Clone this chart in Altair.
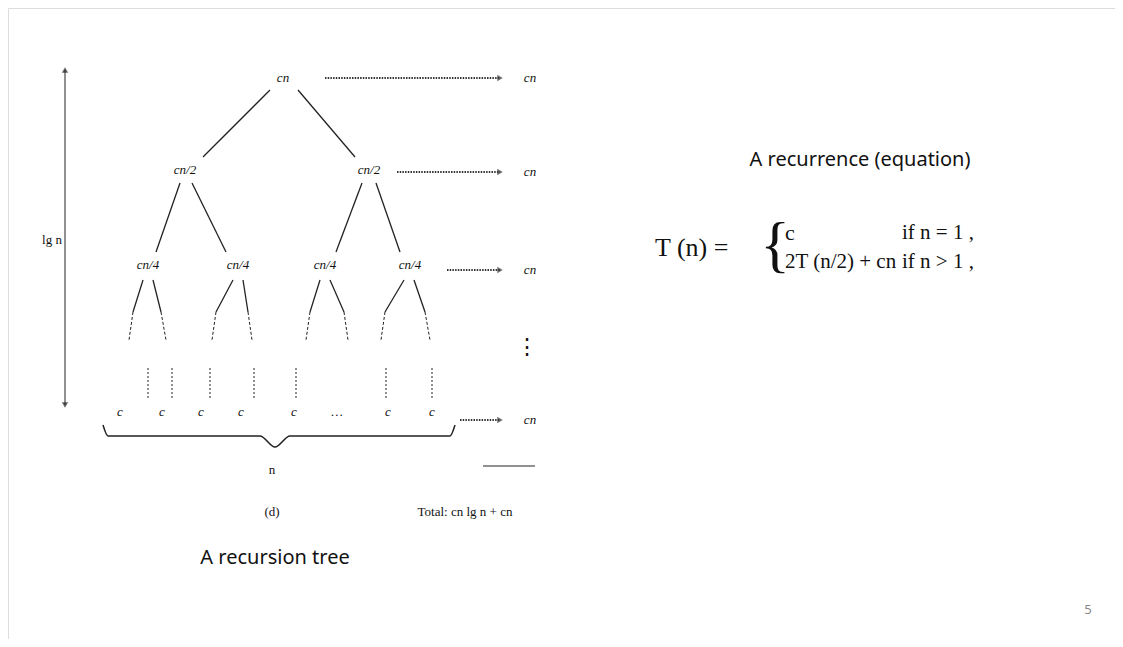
import altair as alt
import pandas as pd

# tree node labels (image pixel positions)
node_label = ["cn", "cn/2", "cn/2", "cn/4", "cn/4", "cn/4", "cn/4",
              "c", "c", "c", "c", "c", "\u2026", "c", "c"]
node_x = [283, 185, 369, 148, 238, 325, 410, 120, 162, 201, 241, 294, 337, 388, 432]
node_y = [78, 170, 170, 265, 265, 265, 265, 412, 412, 412, 412, 412, 412, 412, 412]

# solid tree edges: x1, y1, x2, y2
edge_x1 = [270, 298, 180, 192, 362, 376, 143, 153, 233, 243, 320, 330, 404, 414]
edge_y1 = [90, 90, 183, 183, 183, 183, 280, 280, 280, 280, 280, 280, 280, 280]
edge_x2 = [203, 355, 156, 226, 336, 400, 133, 161, 216, 248, 310, 344, 385, 425]
edge_y2 = [157, 157, 252, 252, 252, 252, 312, 312, 312, 312, 312, 312, 312, 312]

# dashed continuation of level-3 edges
dash_x1 = [133, 161, 216, 248, 310, 344, 385, 425]
dash_x2 = [129, 166, 212, 252, 306, 348, 381, 430]
dash_y1 = 312
dash_y2 = 340

# dotted leaf stems
stem_x = [148, 172, 210, 254, 296, 386, 432]

# dotted arrows to the right-hand "cn" column
arrow_x1 = [325, 397, 447, 460]
arrow_y = [78, 172, 270, 420]
arrow_x2 = 500
row_label_x = 530

# brace under leaves
brace_x = [103, 108, 260, 275, 290, 450, 455]
brace_y = [425, 436, 436, 447, 436, 436, 425]

W, H = 1123, 647
X = alt.X("x:Q", scale=alt.Scale(domain=[8, W - 8]), axis=None)
Y = alt.Y("y:Q", scale=alt.Scale(domain=[H - 8, 8]), axis=None)
X2 = alt.X2("x2:Q")
Y2 = alt.Y2("y2:Q")
SERIF = "Liberation Serif"
SANS = "Noto Sans"
INK = "#111"

nodes = pd.DataFrame({"x": node_x, "y": node_y, "t": node_label})
node_layer = alt.Chart(nodes).mark_text(font=SERIF, fontStyle="italic", fontSize=13, color=INK).encode(X, Y, text="t:N")

edges = pd.DataFrame({"x": edge_x1, "y": edge_y1, "x2": edge_x2, "y2": edge_y2})
edge_layer = alt.Chart(edges).mark_rule(color="#222", strokeWidth=1.3).encode(X, Y, X2, Y2)

dashes = pd.DataFrame({"x": dash_x1, "y": dash_y1, "x2": dash_x2, "y2": dash_y2})
dash_layer = alt.Chart(dashes).mark_rule(color="#222", strokeDash=[3, 2]).encode(X, Y, X2, Y2)

stems = pd.DataFrame({"x": stem_x, "y": 368, "x2": stem_x, "y2": 400})
stem_layer = alt.Chart(stems).mark_rule(color="#222", strokeDash=[2, 2]).encode(X, Y, X2, Y2)

arrows = pd.DataFrame({"x": arrow_x1, "y": arrow_y, "x2": arrow_x2, "y2": arrow_y})
arrow_layer = alt.Chart(arrows).mark_rule(color="#333", strokeDash=[1.5, 1.2], strokeWidth=2).encode(X, Y, X2, Y2)
heads = pd.DataFrame({"x": [arrow_x2] * 4, "y": arrow_y})
head_layer = alt.Chart(heads).mark_point(shape="triangle-right", filled=True, color="#333", size=40).encode(X, Y)
rowlab = pd.DataFrame({"x": [row_label_x] * 4, "y": arrow_y, "t": ["cn"] * 4})
rowlab_layer = alt.Chart(rowlab).mark_text(font=SERIF, fontStyle="italic", fontSize=13, color=INK).encode(X, Y, text="t:N")

brace = pd.DataFrame({"x": brace_x, "y": brace_y, "o": range(len(brace_x))})
brace_layer = alt.Chart(brace).mark_line(color="#222", strokeWidth=1.5, interpolate="monotone").encode(X, Y, order="o:Q")

# lg n double arrow
vline = alt.Chart(pd.DataFrame({"x": [65], "y": [70], "x2": [65], "y2": [405]})).mark_rule(color="#222").encode(X, Y, X2, Y2)
vheads = alt.Chart(pd.DataFrame({"x": [65, 65], "y": [70, 405], "s": ["triangle-up", "triangle-down"]})).mark_point(
    filled=True, color="#222", size=40).encode(X, Y, shape=alt.Shape("s:N", scale=None))

# total underline
uline = alt.Chart(pd.DataFrame({"x": [483], "y": [466], "x2": [535], "y2": [466]})).mark_rule(color="#222").encode(X, Y, X2, Y2)

serif_txt = pd.DataFrame({
    "x": [52, 272, 272, 465, 527],
    "y": [240, 470, 512, 512, 347],
    "t": ["lg n", "n", "(d)", "Total: cn lg n + cn", "\u22ee"],
    "s": [13, 13, 13, 13, 22],
})
serif_layer = alt.Chart(serif_txt).mark_text(font=SERIF, color=INK).encode(X, Y, text="t:N", size=alt.Size("s:Q", scale=None))

sans_txt = pd.DataFrame({
    "x": [275, 860, 1088],
    "y": [558, 160, 610],
    "t": ["A recursion tree", "A recurrence (equation)", "5"],
    "s": [20, 20, 13],
    "c": [INK, INK, "#888"],
})
sans_layer = alt.Chart(sans_txt).mark_text(font=SANS).encode(
    X, Y, text="t:N", size=alt.Size("s:Q", scale=None), color=alt.Color("c:N", scale=None))

eq = pd.DataFrame({
    "x": [655, 785, 785, 902, 902],
    "y": [248, 233, 262, 233, 262],
    "t": ["T (n) =", "c", "2T (n/2) + cn", "if n = 1 ,", "if n > 1 ,"],
    "st": ["italic", "italic", "normal", "normal", "normal"],
    "s": [26, 22, 21, 21, 21],
})
eq_layer = alt.Chart(eq).mark_text(font=SERIF, align="left", color=INK).encode(
    X, Y, text="t:N", size=alt.Size("s:Q", scale=None))
curly = alt.Chart(pd.DataFrame({"x": [775], "y": [246], "t": ["{"]})).mark_text(
    font=SERIF, fontSize=62, fontWeight=100, color=INK).encode(X, Y, text="t:N")

chart = alt.layer(
    edge_layer, dash_layer, stem_layer, arrow_layer, head_layer, node_layer, rowlab_layer,
    brace_layer, vline, vheads, uline, serif_layer, sans_layer, eq_layer, curly,
).properties(
    width=W - 16, height=H - 16, padding=0,
    autosize=alt.AutoSizeParams(type="fit", contains="padding"),
).configure_view(strokeWidth=0).configure(background="white")

chart.save("out.html", embed_options={"renderer": "svg", "actions": False})
